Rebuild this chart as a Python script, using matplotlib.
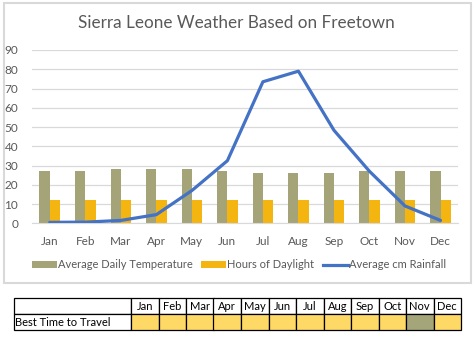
import numpy as np
import matplotlib
matplotlib.use('Agg')
from matplotlib import pyplot as plt
from matplotlib.patches import Rectangle, Patch
from matplotlib.lines import Line2D

months = ['Jan', 'Feb', 'Mar', 'Apr', 'May', 'Jun',
          'Jul', 'Aug', 'Sep', 'Oct', 'Nov', 'Dec']
temperature = [27, 27, 28, 28, 28, 27, 26, 26, 26, 27, 27, 27]
daylight = [12.3, 12.1, 12.1, 12.1, 12.2, 12.3, 12.3, 12.3, 12.2, 12.1, 12.1, 12.1]
rainfall = [0.5, 0.6, 1.5, 4.5, 17, 32.5, 73.5, 79, 48.3, 27, 9, 1.5]
yticks = [0, 10, 20, 30, 40, 50, 60, 70, 80, 90]
travel = ['good'] * 10 + ['best'] + ['good']

c_temp = '#a5a479'
c_day = '#f5b511'
c_rain = '#4472c4'
c_grid = '#d9d9d9'
c_text = '#595959'
travel_colors = {'good': '#ffd966', 'best': '#a5a57a'}

plt.rcParams['font.family'] = ['Lato', 'DejaVu Sans']

W, H = 474, 342
fig = plt.figure(figsize=(W / 100, H / 100), dpi=100)


def px_axes(x0, y0, x1, y1):
    # pixel box measured from top-left
    return fig.add_axes([x0 / W, 1 - y1 / H, (x1 - x0) / W, (y1 - y0) / H])


# chart frame
fig.patches.append(Rectangle((4 / W, 1 - 283 / H), 467 / W, 280 / H,
                             transform=fig.transFigure, facecolor='none',
                             edgecolor=c_grid, lw=1.5, zorder=-1))

ax = px_axes(32, 50, 458.3, 223.3)
x = np.arange(len(months))
bw = 0.29
ax.bar(x - bw / 2, temperature, bw, color=c_temp, zorder=2)
ax.bar(x + bw / 2, daylight, bw, color=c_day, zorder=2)
ax.plot(x, rainfall, color=c_rain, lw=2.3, zorder=3, solid_capstyle='round')

ax.set_xlim(-0.5, len(months) - 0.5)
ax.set_ylim(0, 90)
ax.set_yticks(yticks)
ax.set_xticks(x)
ax.set_xticklabels(months)
ax.grid(axis='y', color=c_grid, lw=0.9, zorder=0)
ax.set_axisbelow(True)
for s in ['top', 'right', 'left']:
    ax.spines[s].set_visible(False)
ax.spines['bottom'].set_color(c_grid)
ax.tick_params(length=0, labelsize=8.5, labelcolor=c_text)
ax.tick_params(axis='y', pad=10)
ax.tick_params(axis='x', pad=9)
ax.patch.set_alpha(0)

fig.text(236 / W, 1 - 23 / H, 'Sierra Leone Weather Based on Freetown',
         ha='center', va='center', fontsize=12.3, color=c_text)

handles = [Patch(facecolor=c_temp), Patch(facecolor=c_day),
           Line2D([], [], color=c_rain, lw=2.3)]
labels = ['Average Daily Temperature', 'Hours of Daylight', 'Average cm Rainfall']
leg = fig.legend(handles, labels, ncol=3, loc='center',
                 bbox_to_anchor=(239 / W, 1 - 265 / H), frameon=False,
                 fontsize=8, handlelength=2.25, handleheight=0.65,
                 handletextpad=0.1, columnspacing=0.8)
for t in leg.get_texts():
    t.set_color(c_text)

# travel table
tax = px_axes(14, 298, 461, 330)
tax.axis('off')
cells = [[''] + months, ['Best Time to Travel'] + [''] * len(months)]
colours = [['white'] * (len(months) + 1),
           ['white'] + [travel_colors[t] for t in travel]]
first_w = 117 / 447
col_w = [first_w] + [(1 - first_w) / len(months)] * len(months)
tbl = tax.table(cellText=cells, cellColours=colours, colWidths=col_w,
                bbox=[0, 0, 1, 1], cellLoc='center')
tbl.auto_set_font_size(False)
for (r, c), cell in tbl.get_celld().items():
    cell.set_edgecolor('black')
    cell.set_linewidth(0.9)
    cell.get_text().set_fontsize(8)
    if c == 0:
        cell.get_text().set_ha('left')
        cell._loc = 'left'
        cell.PAD = 0.01

fig.savefig('out.png', dpi=100)
